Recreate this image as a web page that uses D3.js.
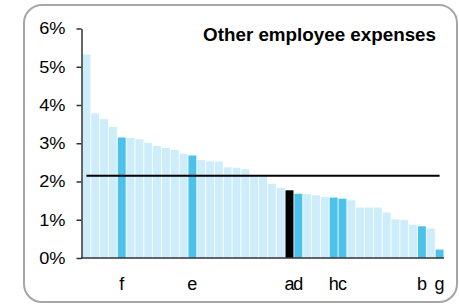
<!DOCTYPE html>
<html>
<head>
<meta charset="utf-8">
<script src="https://cdn.jsdelivr.net/npm/d3@7"></script>
<style>
  html, body { margin: 0; padding: 0; background: #fff; }
  svg { display: block; }
  text { font-family: Arial, "Liberation Sans", sans-serif; }
</style>
</head>
<body>
<svg id="chart" width="459" height="305"></svg>
<script>
const title = "Other employee expenses";
const labels = ["", "", "", "", "f", "", "", "", "", "", "", "", "e", "", "", "", "", "", "", "", "",
                "", "", "a", "d", "", "", "", "h", "c", "", "", "", "", "", "", "", "", "b", "", "g"];
const values = [5.32, 3.78, 3.63, 3.43, 3.15, 3.14, 3.10, 3.01, 2.93, 2.88, 2.83, 2.73, 2.68, 2.56, 2.53,
                2.52, 2.37, 2.36, 2.32, 2.13, 2.12, 1.94, 1.83, 1.77, 1.68, 1.67, 1.64, 1.59, 1.58, 1.55,
                1.51, 1.32, 1.32, 1.32, 1.19, 1.01, 0.99, 0.87, 0.83, 0.77, 0.22];
// bar role: 0 = other, 1 = peer (highlighted), 2 = self
const roles = [0,0,0,0,1,0,0,0,0,0,0,0,1,0,0,0,0,0,0,0,0,0,0,2,1,0,0,0,1,1,0,0,0,0,0,0,0,0,1,0,1];
const average = [2.15];
const yTicks = [0, 1, 2, 3, 4, 5, 6];

const colors = ["#cdedfa", "#4cc1ea", "#000000"];

const svg = d3.select("#chart");

// frame
svg.append("rect")
  .attr("x", 24).attr("y", 5).attr("width", 433).attr("height", 297)
  .attr("rx", 18).attr("ry", 18)
  .attr("fill", "#fff").attr("stroke", "#a6a6a6").attr("stroke-width", 2);

const x = d3.scaleBand().domain(d3.range(values.length)).range([82, 444])
  .paddingInner(0.1).paddingOuter(0.05);
const y = d3.scaleLinear().domain([0, 6]).range([258, 28.5]);

// bars
svg.append("g").selectAll("rect").data(values).join("rect")
  .attr("x", (d, i) => x(i))
  .attr("y", d => y(d))
  .attr("width", x.bandwidth())
  .attr("height", d => y(0) - y(d))
  .attr("fill", (d, i) => colors[roles[i]]);

// average line
svg.append("line")
  .attr("x1", x(0) + x.bandwidth() / 2)
  .attr("x2", x(values.length - 1) + x.bandwidth() / 2)
  .attr("y1", y(average[0])).attr("y2", y(average[0]))
  .attr("stroke", "#000").attr("stroke-width", 2);

// y axis
const yAxis = d3.axisLeft(y).tickValues(yTicks).tickFormat(d => d + "%")
  .tickSizeInner(5).tickSizeOuter(0).tickPadding(11);
const gy = svg.append("g").attr("transform", "translate(81.5,0)").call(yAxis);
gy.select(".domain").attr("stroke", "#333").attr("stroke-width", 1.5);
gy.selectAll(".tick line").attr("stroke", "#333").attr("stroke-width", 1.5);
gy.selectAll(".tick text")
  .attr("font-size", 17).attr("fill", "#000")
  .attr("font-family", "Arial, 'Liberation Sans', sans-serif")
  .attr("transform", function () {
    const tx = +d3.select(this).attr("x");
    return `translate(${tx},0) scale(1.07,1) translate(${-tx},0)`;
  });

// x axis
const xAxis = d3.axisBottom(x).tickFormat(i => labels[i]).tickSize(0).tickPadding(19);
const gx = svg.append("g").attr("transform", "translate(0,258)").call(xAxis);
gx.select(".domain").attr("stroke", "#333").attr("stroke-width", 1.5)
  .attr("d", "M81,0H444");
gx.selectAll(".tick text")
  .attr("font-size", 18).attr("fill", "#000")
  .attr("font-family", "Arial, 'Liberation Sans', sans-serif");

// title
svg.append("text")
  .attr("x", 436).attr("y", 41.5)
  .attr("text-anchor", "end")
  .attr("font-size", 18).attr("font-weight", "bold").attr("fill", "#000")
  .attr("transform", "translate(436,0) scale(1.045,1) translate(-436,0)")
  .text(title);
</script>
</body>
</html>
